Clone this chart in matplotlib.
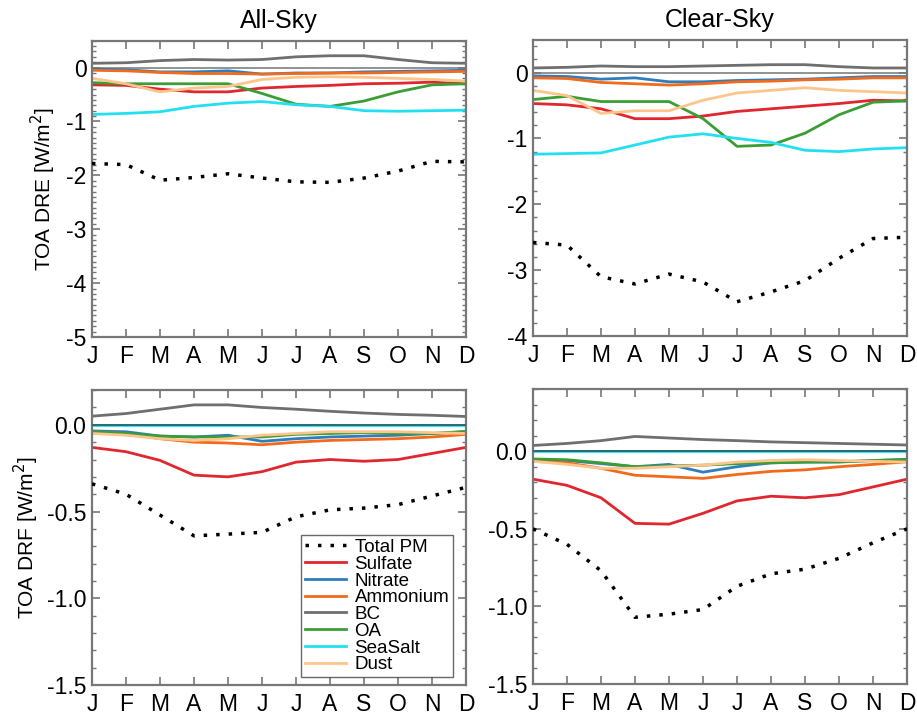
import matplotlib
matplotlib.use("Agg")
import matplotlib.pyplot as plt
import numpy as np
from matplotlib.ticker import MultipleLocator, FormatStrFormatter

plt.rcParams['font.family'] = ['Liberation Sans', 'DejaVu Sans']
plt.rcParams['axes.unicode_minus'] = False

months = ['J', 'F', 'M', 'A', 'M', 'J', 'J', 'A', 'S', 'O', 'N', 'D']

species = ['Total PM', 'Sulfate', 'Nitrate', 'Ammonium', 'BC', 'OA', 'SeaSalt', 'Dust']

# all-sky DRE (W/m2)
dre_all_total = [-1.78, -1.8, -2.09, -2.04, -1.97, -2.05, -2.12, -2.13, -2.05, -1.92, -1.74, -1.75]
dre_all_sulfate = [-0.32, -0.33, -0.4, -0.45, -0.45, -0.38, -0.35, -0.33, -0.3, -0.29, -0.27, -0.3]
dre_all_nitrate = [-0.03, -0.04, -0.08, -0.08, -0.06, -0.12, -0.1, -0.1, -0.08, -0.07, -0.06, -0.05]
dre_all_ammonium = [-0.05, -0.06, -0.09, -0.11, -0.11, -0.12, -0.11, -0.1, -0.1, -0.09, -0.08, -0.07]
dre_all_bc = [0.08, 0.09, 0.13, 0.15, 0.14, 0.15, 0.2, 0.22, 0.22, 0.15, 0.09, 0.08]
dre_all_oa = [-0.28, -0.3, -0.3, -0.3, -0.3, -0.48, -0.68, -0.72, -0.62, -0.45, -0.32, -0.3]
dre_all_seasalt = [-0.87, -0.85, -0.82, -0.72, -0.66, -0.63, -0.69, -0.72, -0.8, -0.81, -0.8, -0.79]
dre_all_dust = [-0.2, -0.3, -0.45, -0.38, -0.35, -0.22, -0.18, -0.17, -0.18, -0.2, -0.22, -0.25]

# clear-sky DRE
dre_clr_total = [-2.58, -2.62, -3.1, -3.21, -3.06, -3.18, -3.48, -3.33, -3.16, -2.82, -2.52, -2.5]
dre_clr_sulfate = [-0.47, -0.49, -0.55, -0.7, -0.7, -0.66, -0.59, -0.55, -0.51, -0.47, -0.42, -0.43]
dre_clr_nitrate = [-0.05, -0.06, -0.1, -0.08, -0.14, -0.14, -0.12, -0.11, -0.1, -0.08, -0.06, -0.06]
dre_clr_ammonium = [-0.08, -0.09, -0.15, -0.17, -0.19, -0.17, -0.14, -0.13, -0.11, -0.1, -0.08, -0.08]
dre_clr_bc = [0.07, 0.08, 0.1, 0.09, 0.09, 0.1, 0.11, 0.12, 0.12, 0.09, 0.07, 0.07]
dre_clr_oa = [-0.41, -0.36, -0.44, -0.44, -0.44, -0.7, -1.12, -1.1, -0.92, -0.64, -0.45, -0.43]
dre_clr_seasalt = [-1.24, -1.23, -1.22, -1.1, -0.98, -0.93, -1.0, -1.06, -1.18, -1.2, -1.16, -1.14]
dre_clr_dust = [-0.27, -0.35, -0.62, -0.58, -0.58, -0.42, -0.31, -0.27, -0.23, -0.27, -0.29, -0.31]

# all-sky DRF
drf_all_total = [-0.34, -0.4, -0.52, -0.64, -0.63, -0.62, -0.53, -0.49, -0.48, -0.46, -0.41, -0.36]
drf_all_sulfate = [-0.13, -0.155, -0.205, -0.29, -0.3, -0.27, -0.215, -0.2, -0.21, -0.2, -0.165, -0.13]
drf_all_nitrate = [-0.035, -0.04, -0.065, -0.07, -0.06, -0.095, -0.08, -0.07, -0.065, -0.06, -0.05, -0.04]
drf_all_ammonium = [-0.04, -0.05, -0.08, -0.1, -0.105, -0.115, -0.1, -0.09, -0.085, -0.08, -0.07, -0.055]
drf_all_bc = [0.05, 0.065, 0.09, 0.115, 0.115, 0.1, 0.09, 0.078, 0.068, 0.06, 0.055, 0.048]
drf_all_oa = [-0.04, -0.05, -0.065, -0.07, -0.07, -0.07, -0.055, -0.05, -0.045, -0.05, -0.05, -0.038]
drf_all_seasalt = [0.0] * 12
drf_all_dust = [-0.05, -0.06, -0.08, -0.09, -0.08, -0.06, -0.05, -0.04, -0.04, -0.04, -0.045, -0.05]

# clear-sky DRF
drf_clr_total = [-0.5, -0.6, -0.77, -1.07, -1.05, -1.02, -0.87, -0.79, -0.76, -0.69, -0.59, -0.5]
drf_clr_sulfate = [-0.18, -0.22, -0.3, -0.465, -0.47, -0.4, -0.32, -0.29, -0.3, -0.28, -0.23, -0.18]
drf_clr_nitrate = [-0.055, -0.06, -0.08, -0.1, -0.085, -0.135, -0.1, -0.075, -0.07, -0.07, -0.06, -0.055]
drf_clr_ammonium = [-0.065, -0.075, -0.11, -0.155, -0.165, -0.175, -0.15, -0.13, -0.12, -0.1, -0.085, -0.068]
drf_clr_bc = [0.037, 0.05, 0.068, 0.095, 0.085, 0.075, 0.068, 0.06, 0.055, 0.05, 0.045, 0.04]
drf_clr_oa = [-0.05, -0.055, -0.075, -0.1, -0.095, -0.09, -0.08, -0.075, -0.07, -0.068, -0.06, -0.052]
drf_clr_seasalt = [0.0] * 12
drf_clr_dust = [-0.065, -0.085, -0.11, -0.11, -0.1, -0.09, -0.07, -0.06, -0.055, -0.06, -0.065, -0.07]

panels = [
    [dre_all_total, dre_all_sulfate, dre_all_nitrate, dre_all_ammonium, dre_all_bc, dre_all_oa, dre_all_seasalt, dre_all_dust],
    [dre_clr_total, dre_clr_sulfate, dre_clr_nitrate, dre_clr_ammonium, dre_clr_bc, dre_clr_oa, dre_clr_seasalt, dre_clr_dust],
    [drf_all_total, drf_all_sulfate, drf_all_nitrate, drf_all_ammonium, drf_all_bc, drf_all_oa, drf_all_seasalt, drf_all_dust],
    [drf_clr_total, drf_clr_sulfate, drf_clr_nitrate, drf_clr_ammonium, drf_clr_bc, drf_clr_oa, drf_clr_seasalt, drf_clr_dust],
]

colours = ['black', '#e0262e', '#2f7dbd', '#f26a1b', '#6f6f6f', '#3a9e35', '#22e0f0', '#fdc58c']

ylims = [(-5.0, 0.5), (-4.0, 0.5), (-1.5, 0.2), (-1.5, 0.4)]
majors = [1, 1, 0.5, 0.5]
minors = [0.1, 0.2, 0.1, 0.1]
fmts = ['%d', '%d', '%.1f', '%.1f']

fig = plt.figure(figsize=(9.17, 7.21), dpi=100)
# axes boxes [left, bottom, width, height]
boxes = [[0.1003, 0.5326, 0.408, 0.411],
         [0.5812, 0.5340, 0.408, 0.411],
         [0.1003, 0.0499, 0.408, 0.409],
         [0.5812, 0.0513, 0.408, 0.409]]

x = np.arange(12)
frame = '#777777'
for i in range(4):
    ax = fig.add_axes(boxes[i])
    data = panels[i]
    # zero line
    if i < 2:
        ax.axhline(0, color='#8a8a8a', lw=1.3, zorder=1)
    for k in range(1, 8):
        ax.plot(x, data[k], color=colours[k], lw=2.0, label=species[k], zorder=2)
    if i >= 2:
        ax.axhline(0, color='#226d76', lw=1.4, zorder=3)
    ax.plot(x, data[0], color='black', lw=2.5, linestyle=(0, (1, 2.6)),
            label=species[0], zorder=4)

    ax.set_xlim(0, 11)
    ax.set_ylim(*ylims[i])
    ax.set_xticks(x)
    ax.set_xticklabels(months)
    ax.yaxis.set_major_locator(MultipleLocator(majors[i]))
    ax.yaxis.set_minor_locator(MultipleLocator(minors[i]))
    ax.yaxis.set_major_formatter(FormatStrFormatter(fmts[i]))
    ax.tick_params(which='both', direction='in', top=True, right=True,
                   color=frame, labelsize=16.5)
    ax.tick_params(axis='x', pad=6)
    ax.tick_params(axis='y', pad=4)
    ax.tick_params(which='major', length=6, width=1.2)
    ax.tick_params(which='minor', length=3, width=1.0)
    for sp in ax.spines.values():
        sp.set_color(frame)
        sp.set_linewidth(1.6)

    if i == 0:
        ax.set_title('All-Sky', fontsize=18, pad=9)
        ax.set_ylabel('TOA DRE [W/m$^2$]', fontsize=15, labelpad=6)
    if i == 1:
        ax.set_title('Clear-Sky', fontsize=18, pad=9)
    if i == 2:
        ax.set_ylabel('TOA DRF [W/m$^2$]', fontsize=15, labelpad=4)
        handles, labels = ax.get_legend_handles_labels()
        order = [7, 0, 1, 2, 3, 4, 5, 6]
        leg = ax.legend([handles[j] for j in order], [labels[j] for j in order],
                        loc='lower right', bbox_to_anchor=(0.965, 0.027),
                        fontsize=13.5, frameon=True, fancybox=False,
                        handlelength=2.2, handletextpad=0.45, labelspacing=-0.02,
                        borderpad=0.2, borderaxespad=0)
        leg.get_frame().set_edgecolor('#444444')
        leg.get_frame().set_linewidth(1.0)

plt.savefig('out.png', dpi=100)
